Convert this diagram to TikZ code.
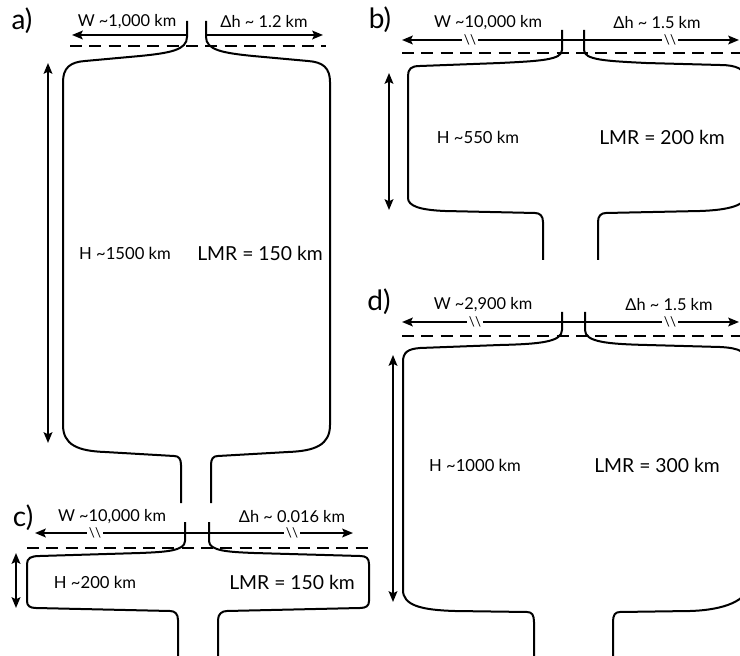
\documentclass[tikz,border=0pt]{standalone}
\usepackage{fontspec}
\setmainfont{Lato}
\usetikzlibrary{arrows.meta}

\begin{document}
\begin{tikzpicture}[
    x=0.75pt, y=-0.75pt,
    cell/.style={line width=1.5pt, line join=round, line cap=butt},
    dimarrow/.style={line width=1.4pt, {Stealth[length=8pt, width=6.5pt, inset=1.5pt]}-{Stealth[length=8pt, width=6.5pt, inset=1.5pt]}},
    onearrow/.style={line width=1.4pt, -{Stealth[length=8pt, width=6.5pt, inset=1.5pt]}},
    waterline/.style={line width=1.3pt, dash pattern=on 9pt off 5.5pt},
    panel/.style={font=\fontsize{21}{21}\selectfont},
    dimtext/.style={font=\fontsize{12.3}{14}\selectfont},
    htext/.style={font=\fontsize{12.5}{14}\selectfont},
    lmrtext/.style={font=\fontsize{14.5}{16}\selectfont},
    brk/.style={fill=white, inner xsep=1.2pt, inner ysep=0pt, font=\fontsize{10}{10}\selectfont},
]
\useasboundingbox (0,0) rectangle (740,656);
\clip (0,0) rectangle (740,656);

% Panel a
\node[panel] (la) at (22,21) {a)};
\node[dimtext] (wa) at (127,22) {W \textasciitilde1,000 km};
\node[dimtext] (dha) at (264,22) {Δh \textasciitilde{} 1.2 km};
\draw[onearrow] (187,35) -- (72,35);
\draw[onearrow] (206,35) -- (323,35);
\draw[waterline] (70,46) -- (326,46);
\draw[cell] (187,21) -- (187,37) .. controls (187,50) and (170,53) .. (140,56) -- (85,61)
    .. controls (70,62) and (63,68) .. (63,82) -- (63,425)
    .. controls (63,445) and (78,451) .. (105,452) -- (174,456)
    .. controls (179,456) and (181,459) .. (181,465) -- (181,503);
\draw[cell] (206,21) -- (206,37) .. controls (206,50) and (223,53) .. (253,56) -- (308,61)
    .. controls (323,62) and (330,68) .. (330,82) -- (330,425)
    .. controls (330,445) and (315,451) .. (288,452) -- (218,456)
    .. controls (213,456) and (211,459) .. (211,465) -- (211,503);
\draw[dimarrow] (48,63) -- (48,443);
\node[htext] (ha) at (125,253) {H \textasciitilde1500 km};
\node[lmrtext] (lmra) at (260,253) {LMR = 150 km};

% Panel b
\node[panel] (lb) at (380,20) {b)};
\node[dimtext] (wb) at (488,23) {W \textasciitilde10,000 km};
\node[dimtext] (dhb) at (657,23) {Δh \textasciitilde{} 1.5 km};
\draw[dimarrow] (402,40) -- (739,40);
\node[brk] (bb1) at (470,40) {\textbackslash\textbackslash};
\node[brk] (bb2) at (670,40) {\textbackslash\textbackslash};
\draw[waterline] (402,53) -- (740,53);
\draw[cell] (562,30) -- (562,50) .. controls (562,60) and (540,61) .. (500,63) -- (420,66)
    .. controls (411,66) and (408,69) .. (408,76) -- (408,198)
    .. controls (408,206) and (420,210) .. (445,211) -- (535,213)
    .. controls (540,213) and (543,216) .. (543,222) -- (543,260);
\draw[cell] (584,30) -- (584,50) .. controls (584,60) and (606,61) .. (646,63) -- (720,65)
    .. controls (736,65) and (746,69) .. (746,80) -- (746,195)
    .. controls (746,205) and (730,210) .. (700,211) -- (606,213)
    .. controls (601,213) and (598,216) .. (598,222) -- (598,260);
\draw[dimarrow] (389,73) -- (389,210);
\node[htext] (hb) at (478,137) {H \textasciitilde550 km};
\node[lmrtext] (lmrb) at (662,137) {LMR = 200 km};

% Panel c
\node[panel] (lc) at (23,518) {c)};
\node[dimtext] (wc) at (112,517) {W \textasciitilde10,000 km};
\node[dimtext] (dhc) at (292,517) {Δh \textasciitilde{} 0.016 km};
\draw[dimarrow] (35,533) -- (353,533);
\node[brk] (bc1) at (95,533) {\textbackslash\textbackslash};
\node[brk] (bc2) at (292,533) {\textbackslash\textbackslash};
\draw[waterline] (27,548) -- (370,548);
\draw[cell] (185,522) -- (185,541) .. controls (185,551) and (165,552) .. (140,553) -- (40,556)
    .. controls (31,556) and (27,558) .. (27,564) -- (27,601)
    .. controls (27,606) and (30,608) .. (36,608) -- (170,611)
    .. controls (175,611) and (178,614) .. (178,620) -- (178,660);
\draw[cell] (209,522) -- (209,541) .. controls (209,551) and (229,552) .. (254,553) -- (360,556)
    .. controls (366,556) and (369,558) .. (369,564) -- (369,601)
    .. controls (369,606) and (366,608) .. (360,608) -- (227,611)
    .. controls (222,611) and (218,614) .. (218,620) -- (218,660);
\draw[dimarrow] (16,553) -- (16,608);
\node[htext] (hc) at (95,582) {H \textasciitilde200 km};
\node[lmrtext] (lmrc) at (292,582) {LMR = 150 km};

% Panel d
\node[panel] (ld) at (379,302) {d)};
\node[dimtext] (wd) at (483,305) {W \textasciitilde2,900 km};
\node[dimtext] (dhd) at (669,305) {Δh \textasciitilde{} 1.5 km};
\draw[dimarrow] (402,322) -- (739,322);
\node[brk] (bd1) at (475,322) {\textbackslash\textbackslash};
\node[brk] (bd2) at (670,322) {\textbackslash\textbackslash};
\draw[waterline] (402,336) -- (740,336);
\draw[cell] (562,312) -- (562,330) .. controls (562,342) and (540,344) .. (500,345) -- (420,348)
    .. controls (408,349) and (403,352) .. (403,362) -- (403,590)
    .. controls (403,605) and (420,610) .. (455,611) -- (527,612)
    .. controls (532,612) and (534,615) .. (534,622) -- (534,660);
\draw[cell] (585,312) -- (585,330) .. controls (585,342) and (607,344) .. (647,345) -- (720,347)
    .. controls (740,348) and (748,352) .. (748,365) -- (748,585)
    .. controls (748,600) and (725,610) .. (690,611) -- (620,612)
    .. controls (615,612) and (613,615) .. (613,622) -- (613,660);
\draw[dimarrow] (393,355) -- (393,602);
\node[htext] (hd) at (475,465) {H \textasciitilde1000 km};
\node[lmrtext] (lmrd) at (657,465) {LMR = 300 km};

\end{tikzpicture}
\end{document}
